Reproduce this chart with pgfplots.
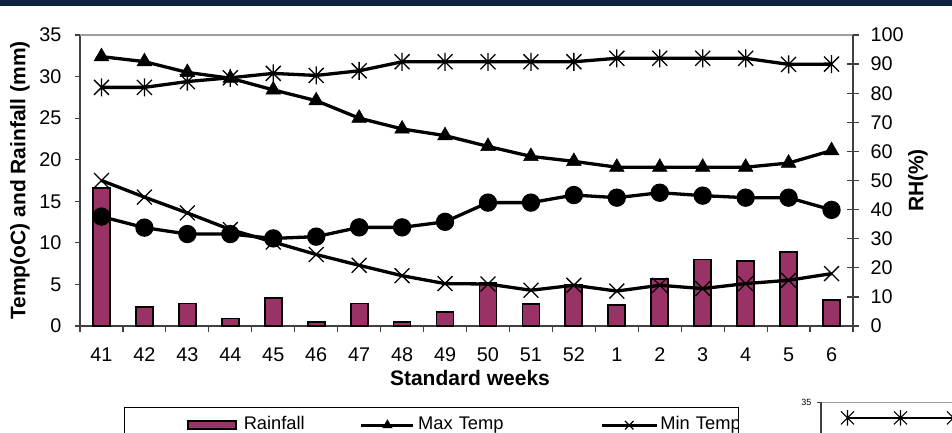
\documentclass[border=0pt]{standalone}
\usepackage{pgfplots}
\usepackage{pgfplotstable}
\pgfplotsset{compat=1.18}
\usepackage{fontspec}
\setmainfont{Liberation Sans}

\definecolor{rain}{HTML}{993366}
\definecolor{band}{HTML}{0F2442}
\definecolor{axisgray}{HTML}{404040}

% x with a vertical stroke, like the spreadsheet star marker
\pgfdeclareplotmark{xstar}{%
  \pgfpathmoveto{\pgfqpoint{-\pgfplotmarksize}{-\pgfplotmarksize}}%
  \pgfpathlineto{\pgfqpoint{\pgfplotmarksize}{\pgfplotmarksize}}%
  \pgfpathmoveto{\pgfqpoint{-\pgfplotmarksize}{\pgfplotmarksize}}%
  \pgfpathlineto{\pgfqpoint{\pgfplotmarksize}{-\pgfplotmarksize}}%
  \pgfpathmoveto{\pgfqpoint{0pt}{-1.2\pgfplotmarksize}}%
  \pgfpathlineto{\pgfqpoint{0pt}{1.2\pgfplotmarksize}}%
  \pgfusepathqstroke}

% weeks 41..52, 1..6 plotted at 0..17
\pgfplotstableread{
wk rain tmax tmin rhm rhe
0  16.6 32.4 17.5 82.0 37.6
1  2.3  31.8 15.5 82.0 33.8
2  2.7  30.5 13.6 84.0 31.6
3  0.9  29.8 11.6 85.3 31.6
4  3.4  28.4 10.1 86.8 30.1
5  0.5  27.1 8.6  86.1 30.7
6  2.7  25.0 7.3  87.7 33.9
7  0.5  23.7 6.05 90.8 33.9
8  1.65 22.9 5.1  90.8 35.8
9  5.2  21.6 5.05 90.8 42.4
10 2.65 20.4 4.3  90.8 42.4
11 5.0  19.8 4.9  90.8 45.0
12 2.5  19.1 4.2  92.0 44.1
13 5.7  19.1 4.9  92.0 45.8
14 8.0  19.1 4.5  92.0 44.8
15 7.8  19.1 5.1  92.0 44.1
16 8.9  19.6 5.5  89.9 44.1
17 3.1  21.1 6.3  90.0 39.9
}\weather

% the piece of the next chart that shows at the bottom right
\pgfplotstableread{
wk val
0 31.9
1 31.9
2 31.9
3 31.9
}\nextchart

\pgfplotsset{
  every tick label/.append style={font=\fontsize{19.8bp}{22bp}\selectfont},
  label style={font=\bfseries\fontsize{21bp}{23bp}\selectfont},
  /pgf/number format/assume math mode=true,
}

\begin{document}
\begin{tikzpicture}[x=1bp,y=1bp]
\useasboundingbox (0,0) rectangle (952,432);
\fill[band] (0,425.5) rectangle (952,432);

% left axis: rainfall and temperatures
\begin{axis}[
  at={(80bp,106bp)}, anchor=south west, scale only axis,
  width=773bp, height=291bp,
  xmin=-0.5, xmax=17.5, ymin=0, ymax=35,
  clip=false,
  axis x line*=bottom, axis y line*=left,
  axis line style={axisgray, line width=1.4bp},
  xtick={0,...,17},
  xticklabels={41,42,43,44,45,46,47,48,49,50,51,52,1,2,3,4,5,6},
  minor xtick={-0.5,0.5,...,17.5},
  major x tick style={draw=none},
  minor x tick style={axisgray, line width=1.2bp},
  minor tick length=6bp,
  ytick={0,5,...,35},
  y tick style={axisgray, line width=1.2bp},
  major tick length=5bp,
  tick align=outside,
  xticklabel style={anchor=base, yshift=-30.5bp},
  yticklabel style={xshift=-10bp},
  xlabel={Standard weeks},
  xlabel style={at={(axis description cs:0.5045,-0.1787)}, anchor=center},
  ylabel={Temp(oC) and Rainfall (mm)},
  ylabel style={at={(axis description cs:-0.0776,0.5)}, anchor=center},
]
\addplot[ybar, bar width=17bp, fill=rain, draw=black, line width=1.8bp]
  table[x=wk, y=rain] {\weather};
\addplot[black, line width=3.3bp, mark=triangle*, mark size=8.5bp,
  mark options={solid, line width=0.5bp}]
  table[x=wk, y=tmax] {\weather};
\addplot[black, line width=3.3bp, mark=x, mark size=10.5bp,
  mark options={solid, line width=1.3bp}]
  table[x=wk, y=tmin] {\weather};
\end{axis}

% right axis: relative humidity
\begin{axis}[
  at={(80bp,106bp)}, anchor=south west, scale only axis,
  width=773bp, height=291bp,
  xmin=-0.5, xmax=17.5, ymin=0, ymax=100,
  clip=false,
  axis x line*=top, axis y line*=right,
  x axis line style={gray!75, line width=1.4bp},
  y axis line style={axisgray, line width=1.4bp},
  xtick=\empty,
  ytick={0,10,...,100},
  y tick style={axisgray, line width=1.2bp},
  major tick length=12bp,
  tick align=center,
  yticklabel style={xshift=8bp},
  ylabel={RH(\%)},
  ylabel style={at={(axis description cs:1.084,0.5)}, anchor=center},
]
\addplot[black, line width=3.3bp, mark=xstar, mark size=7.5bp,
  mark options={solid, line width=1.3bp}]
  table[x=wk, y=rhm] {\weather};
\addplot[black, line width=3.3bp, mark=*, mark size=7.5bp,
  mark options={solid}]
  table[x=wk, y=rhe] {\weather};
\end{axis}

% legend, cut at the right edge of its frame
\begin{scope}
\clip (0,0) rectangle (738,432);
\begin{axis}[
  at={(80bp,106bp)}, anchor=south west, scale only axis,
  width=773bp, height=291bp,
  hide axis, xmin=0, xmax=1, ymin=0, ymax=1,
  legend columns=3,
  legend style={draw=none, fill=none, inner sep=0pt,
    at={(axis description cs:0.1384,-0.3144)}, anchor=north west,
    font=\fontsize{18.3bp}{20bp}\selectfont,
    nodes={inner sep=0pt, text height=12bp, text depth=3bp},
    column sep=0pt},
]
\addlegendimage{legend image code/.code={
  \draw[fill=rain, draw=black, line width=1.6bp] (0bp,-4bp) rectangle (48bp,4bp);}}
\addlegendentry[text width=123bp]{\hspace*{7bp}Rainfall}
\addlegendimage{legend image code/.code={
  \draw[black, line width=3.3bp] (0bp,0bp) -- (52bp,0bp);
  \draw[black, mark=triangle*, mark size=5.5bp] plot coordinates {(26bp,0bp)};}}
\addlegendentry[text width=185bp]{\hspace*{3bp}Max Temp}
\addlegendimage{legend image code/.code={
  \draw[black, line width=3.3bp] (0bp,0bp) -- (55bp,0bp);
  \draw[black, mark=x, mark size=6bp, line width=1.2bp] plot coordinates {(27.5bp,0bp)};}}
\addlegendentry[text width=120bp]{\hspace*{2bp}Min Temp}
\end{axis}
\end{scope}
\draw[black, line width=1bp] (124,-10) rectangle (738,25);

% edge of the following chart
\begin{scope}
\clip (0,0) rectangle (952,432);
\begin{axis}[
  at={(821bp,30bp)}, anchor=north west, scale only axis,
  width=265bp, height=180bp,
  xmin=-0.5, xmax=4.5, ymin=0, ymax=35,
  clip=false,
  axis x line*=top, axis y line*=left,
  x axis line style={gray!75, line width=1bp},
  y axis line style={axisgray, line width=1.2bp},
  xtick=\empty, ytick={35},
  y tick style={axisgray, line width=1bp},
  major tick length=4bp, tick align=outside,
  yticklabel style={font=\fontsize{9bp}{10bp}\selectfont, xshift=-2bp},
]
\addplot[black, line width=2bp, mark=xstar, mark size=6.5bp,
  mark options={solid, line width=1.1bp}]
  table[x=wk, y=val] {\nextchart};
\end{axis}
\end{scope}
\end{tikzpicture}
\end{document}
